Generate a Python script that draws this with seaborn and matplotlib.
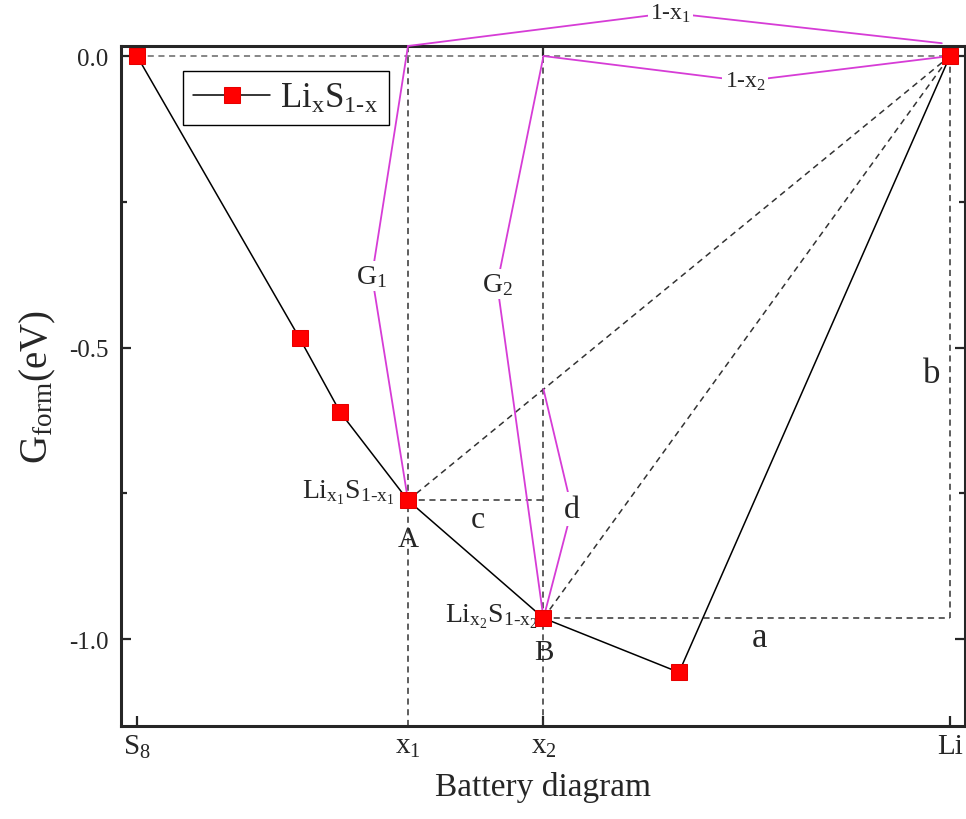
import numpy as np
import pandas as pd
import seaborn as sns
import matplotlib.pyplot as plt
from matplotlib.ticker import MultipleLocator, NullLocator

# Li fraction x and formation energy of Li_xS_(1-x)
x_li = [0.0, 0.2, 0.25, 1/3, 0.5, 2/3, 1.0]
g_form = [0.0, -0.484, -0.611, -0.762, -0.964, -1.057, 0.0]

x_tick_pos = [0.0, 1/3, 0.5, 1.0]
x_tick_lab = [r'S$_8$', r'x$_1$', r'x$_2$', 'Li']
y_tick_pos = [0.0, -0.5, -1.0]
y_tick_lab = ['0.0', '-0.5', '-1.0']

# which points are A, B and pure Li
iA, iB, iLi = 3, 4, 6

sns.set_style('ticks')
plt.rcParams['font.family'] = ['Liberation Serif', 'DejaVu Serif']
plt.rcParams['mathtext.fontset'] = 'custom'
plt.rcParams['mathtext.rm'] = 'Liberation Serif'
plt.rcParams['mathtext.it'] = 'Liberation Serif:italic'
plt.rcParams['mathtext.bf'] = 'Liberation Serif:bold'

fig = plt.figure(figsize=(9.66, 8.2), dpi=100)
ax = fig.add_axes([121/966, 1 - 727/820, 844/966, 680/820])

ytop, ybot = 0.0172, -1.149
ax.set_xlim(-0.0197, 1.0185)
ax.set_ylim(ybot, ytop)

df = pd.DataFrame({'x': x_li, 'G': g_form})
sns.lineplot(data=df, x='x', y='G', ax=ax, sort=False, color='black', lw=1.1,
             marker='s', markersize=12, markerfacecolor='#ff0000',
             markeredgecolor='#e60000', zorder=5,
             label=r'Li$_\mathrm{x}$S$_{1\text{-}\mathrm{x}}$')

xA, yA = x_li[iA], g_form[iA]
xB, yB = x_li[iB], g_form[iB]
xL, yL = x_li[iLi], g_form[iLi]

# dashed construction lines
dash = dict(color='#333333', lw=1.1, ls=(0, (4, 3)), zorder=2)
ax.plot([x_li[0], xL], [0, 0], color='#666666', lw=1.1, ls=(0, (4, 3)), zorder=2)
ax.plot([xA, xA], [ybot, ytop], **dash)
ax.plot([xB, xB], [ybot, ytop], **dash)
ax.plot([xA, xL], [yA, yL], **dash)
ax.plot([xB, xL], [yB, yL], **dash)
ax.plot([xA, xB], [yA, yA], **dash)
ax.plot([xB, xL], [yB, yB], **dash)
ax.plot([xL, xL], [yL, yB], **dash)

# magenta brackets
y_cross = yA + (yL - yA) * (xB - xA) / (xL - xA)
mag = dict(color='#d63cd6', lw=1.3, zorder=3, clip_on=False)
brackets = [
    ([xA, 0.656, 0.99], [ytop, 0.074, 0.022], r'1-x$_1$', 17),
    ([xB, 0.748, xL], [0, -0.043, 0], r'1-x$_2$', 17),
    ([xA, 0.289, xA], [ytop, -0.377, yA], r'G$_1$', 20),
    ([xB, 0.443, xB], [0, -0.391, yB], r'G$_2$', 20),
    ([xB, 0.535, xB], [y_cross, -0.777, yB], 'd', 23),
]
for bx, by, lab, fs in brackets:
    ax.plot(bx, by, **mag)
    ax.text(bx[1], by[1], lab, fontsize=fs, ha='center', va='center', zorder=4,
            bbox=dict(facecolor='white', edgecolor='none', pad=1.5), clip_on=False)

ax.text(0.766, -0.997, 'a', fontsize=25, ha='center', va='center')
ax.text(0.978, -0.545, 'b', fontsize=25, ha='center', va='center')
ax.text(0.419, -0.795, 'c', fontsize=23, ha='center', va='center')
ax.text(xA, -0.828, 'A', fontsize=21, ha='center', va='center')
ax.text(xB, -1.022, 'B', fontsize=21, ha='center', va='center')
ax.text(0.316, -0.757, r'Li$_{\mathrm{x}_1}$S$_{1\text{-}\mathrm{x}_1}$', fontsize=20,
        ha='right', va='baseline')
ax.text(0.493, -0.970, r'Li$_{\mathrm{x}_2}$S$_{1\text{-}\mathrm{x}_2}$', fontsize=20,
        ha='right', va='baseline')

ax.set_xticks(x_tick_pos)
ax.set_xticklabels(x_tick_lab, fontsize=21)
ax.set_yticks(y_tick_pos)
ax.set_yticklabels(y_tick_lab, fontsize=18)
ax.yaxis.set_minor_locator(MultipleLocator(0.25))
ax.xaxis.set_minor_locator(NullLocator())
ax.tick_params(which='both', direction='in', top=True, right=True, width=1.6)
ax.tick_params(which='major', length=7)
ax.tick_params(which='minor', length=4)
ax.tick_params(axis='y', pad=9)
ax.tick_params(axis='x', pad=5)
for t in (ax.xaxis.get_major_ticks()[1],):
    t.tick1line.set_visible(False)
    t.tick2line.set_visible(False)
for s in ax.spines.values():
    s.set_linewidth(2.2)

ax.set_xlabel('Battery diagram', fontsize=24, labelpad=8)
ax.set_ylabel(r'G$_\mathrm{form}$(eV)', fontsize=28, labelpad=8)

leg = ax.legend(loc='upper left', bbox_to_anchor=(0.0735, 0.963), fontsize=25,
                frameon=True, fancybox=False, edgecolor='black', framealpha=1,
                handlelength=2.2, borderaxespad=0, borderpad=0.3, handletextpad=0.3)
leg.get_frame().set_linewidth(1.0)

fig.savefig('out.png', dpi=100)
